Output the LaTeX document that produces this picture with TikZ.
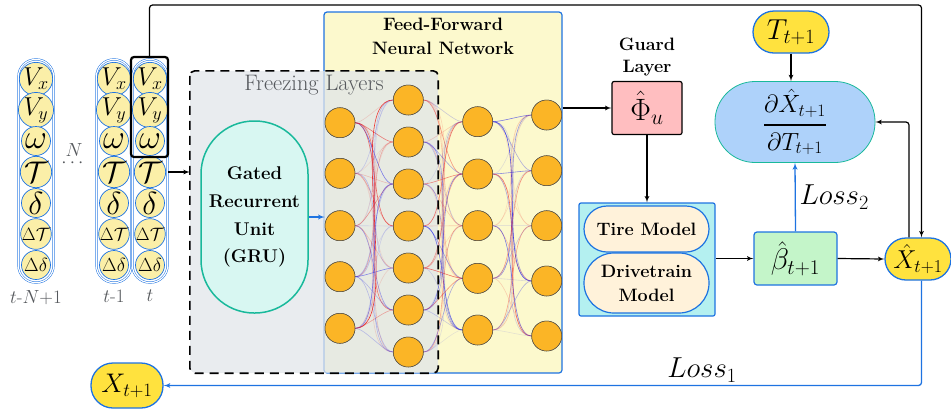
\RequirePackage{fix-cm}
\documentclass[tikz,border=0pt]{standalone}
\usepackage{amsmath}
\usepackage{amssymb}
\usepackage{tikz}
\definecolor{colline}{RGB}{30,115,225}
\definecolor{colteal}{RGB}{25,185,155}
\definecolor{colnode}{RGB}{251,181,38}
\definecolor{colcell}{RGB}{251,239,168}
\definecolor{colffnn}{RGB}{252,249,205}
\definecolor{colfreeze}{RGB}{225,229,234}
\definecolor{colgru}{RGB}{216,247,242}
\definecolor{colguard}{RGB}{255,190,192}
\definecolor{colmodel}{RGB}{180,240,240}
\definecolor{colsub}{RGB}{255,242,218}
\definecolor{colbeta}{RGB}{196,245,201}
\definecolor{colderiv}{RGB}{174,210,250}
\definecolor{colstate}{RGB}{255,226,62}
\definecolor{colred}{RGB}{235,30,30}
\definecolor{colblue}{RGB}{30,30,235}
\definecolor{coltext}{RGB}{85,88,92}
\usetikzlibrary{
	arrows,
	positioning
}
\pgfdeclarelayer{back}
\pgfdeclarelayer{mid}
\pgfsetlayers{back,mid,main}
\tikzset{
	>=latex',
	flow/.style={->, line width=1.2bp},
	lossflow/.style={->, line width=1.3bp, color=colline},
	neuron/.style={circle, draw=black!70, fill=colnode, minimum size=30bp, inner sep=0pt, line width=0.5bp},
	cell/.style={circle, draw=colline, fill=colcell, minimum size=29bp, inner sep=0pt, line width=0.7bp},
	column/.style={draw=colline, double=white, double distance=1.2bp, line width=0.5bp, rounded corners=17bp, minimum width=35bp, minimum height=223bp, inner sep=0pt},
	boldlabel/.style={font=\fontsize{18}{24}\selectfont\bfseries, align=center},
	submodel/.style={draw=colline, fill=colsub, line width=1.2bp, minimum width=125bp, boldlabel},
	statenode/.style={draw=colline, fill=colstate, line width=1.3bp, inner sep=0pt},
	steplabel/.style={text=coltext, font=\fontsize{19}{19}\selectfont}
}

\begin{document}
\begin{tikzpicture}[x=1bp, y=-1bp]
	\useasboundingbox (0,0) rectangle (951,416);

	% input sequence
	\node[column] (cola) at (36,171) {};
	\node[column] (colb) at (114,171) {};
	\node[column] (colc) at (150,171) {};
	\foreach \cn/\x in {a/36, b/114, c/150}
		\foreach \lab/\sz [count=\k] in {V_x/26, V_y/26, \omega/34, \mathcal{T}/30, \delta/32, \Delta\mathcal{T}/18, \Delta\delta/19}
			\node[cell, font=\fontsize{\sz}{\sz}\selectfont] (\cn\k) at (\x, 48+31*\k) {$\lab$};
	\node[steplabel, below=4bp of cola] (laba) {$t$-$N$+1};
	\node[steplabel, below=4bp of colb] (labb) {$t$-1};
	\node[steplabel, below=4bp of colc] (labc) {$t$};
	\node[steplabel] (nlab) at (74,150) {$N$};
	\node[steplabel] (ndots) at (74,163) {$\cdots$};

	% sliding window
	\node[draw, line width=2.2bp, rounded corners=3bp, minimum width=37bp, minimum height=100bp] (window) at (149.5,107) {};

	% network boxes
	\begin{pgfonlayer}{back}
		\node[draw=colline, fill=colffnn, line width=1.2bp, rounded corners=3bp, minimum width=238bp, minimum height=361bp] (ffnn) at (443,192.5) {};
		\node[fill=colfreeze, fill opacity=0.75, rounded corners=6bp, minimum width=248bp, minimum height=302bp] (freeze) at (314,222) {};
	\end{pgfonlayer}
	\node[boldlabel, below=3bp of ffnn.north] (fftitle) {Feed-Forward\\Neural Network};

	% layers
	\foreach \y [count=\k] in {122.7,173.3,225.7,276.7,328.3}
		\node[neuron] (L1-\k) at (340,\y) {};
	\foreach \y [count=\k] in {100,142,184,226,268,310,352}
		\node[neuron] (L2-\k) at (408.3,\y) {};
	\foreach \y [count=\k] in {121.7,174,225.7,278.3,330}
		\node[neuron] (L3-\k) at (477.7,\y) {};
	\foreach \y [count=\k] in {115,170.7,225.7,281,336}
		\node[neuron] (L4-\k) at (546.7,\y) {};

	\begin{pgfonlayer}{mid}
		\pgfmathsetseed{42}
		\foreach \a/\na/\b/\nb in {1/5/2/7, 2/7/3/5, 3/5/4/5}
			\foreach \i in {1,...,\na}
				\foreach \j in {1,...,\nb} {
					\pgfmathsetmacro\op{0.1+0.8*rnd*rnd}
					\pgfmathtruncatemacro\tone{2*rnd}
					\ifnum\tone=0 \def\tint{colred}\else\def\tint{colblue}\fi
					\draw[color=\tint, opacity=\op, line width=0.6bp] (L\a-\i) to[out=0, in=180, looseness=0.55] (L\b-\j);
				}
	\end{pgfonlayer}

	\draw[line width=1.6bp, dash pattern=on 9bp off 6bp, rounded corners=5bp] (freeze.north west) rectangle (freeze.south east);
	\node[text=coltext, font=\fontsize{22.5}{22.5}\selectfont, below=1bp of freeze.north] (freezelabel) {Freezing Layers};

	% redraw neurons above the dashed frame
	\foreach \k in {1,...,5} {
		\node[neuron] at (L1-\k) {};
		\node[neuron] at (L3-\k) {};
		\node[neuron] at (L4-\k) {};
	}
	\foreach \k in {1,...,7}
		\node[neuron] at (L2-\k) {};

	% recurrent unit
	\node[draw=colteal, fill=colgru, line width=1.5bp, rounded corners=53bp, minimum width=107bp, minimum height=192bp, boldlabel, font=\fontsize{18.5}{28}\selectfont\bfseries] (gru) at (254.5,217) {Gated\\Recurrent\\Unit\\(GRU)};

	% guard and physics models
	\node[draw, fill=colguard, line width=1.2bp, rounded corners=2bp, minimum width=70bp, minimum height=53bp, font=\fontsize{31}{31}\selectfont] (guard) at (647,108) {$\hat{\Phi}_u$};
	\node[boldlabel, font=\fontsize{18}{22}\selectfont\bfseries, above=1bp of guard] (guardtitle) {Guard\\Layer};
	\node[draw=colline, fill=colmodel, line width=1.2bp, rounded corners=2bp, minimum width=136bp, minimum height=113bp] (model) at (647,259.5) {};
	\node[submodel, rounded corners=23bp, minimum height=46bp] (tire) at (646.5,229) {Tire Model};
	\node[submodel, rounded corners=30bp, minimum height=60bp] (drive) at (646.5,283) {Drivetrain\\Model};
	\node[draw=colline, fill=colbeta, line width=1.2bp, rounded corners=3bp, minimum width=83bp, minimum height=53bp, font=\fontsize{30}{30}\selectfont] (beta) at (795.5,258.5) {$\hat{\beta}_{t+1}$};
	\node[draw=colteal, fill=colderiv, line width=0.8bp, rounded corners=40bp, minimum width=160bp, minimum height=81bp, font=\fontsize{25}{25}\selectfont] (deriv) at (795,122) {$\genfrac{}{}{2.2bp}{0}{\partial\hat{X}_{t+1}}{\partial T_{t+1}}$};

	% states
	\node[statenode, rounded corners=21bp, minimum width=76bp, minimum height=42bp, font=\fontsize{29}{29}\selectfont] (tnext) at (791,32) {$T_{t+1}$};
	\node[statenode, rounded corners=21bp, minimum width=66bp, minimum height=42bp, font=\fontsize{26}{26}\selectfont] (xhat) at (918,259) {$\hat{X}_{t+1}$};
	\node[statenode, rounded corners=22bp, minimum width=72bp, minimum height=45bp, font=\fontsize{27}{27}\selectfont] (xnext) at (127,385.5) {$X_{t+1}$};

	\node[font=\fontsize{29}{29}\selectfont, anchor=west] (losstwo) at (796,197) {$Loss_2$};
	\node[font=\fontsize{29}{29}\selectfont] (lossone) at (702,370) {$Loss_1$};

	% connections
	\draw[flow] (colc.east |- c4) -- (freeze.west |- c4);
	\draw[->, color=colline, line width=1.3bp] (gru.east) -- (gru.east -| L1-3.west);
	\draw[flow] (ffnn.east |- guard.west) -- (guard.west);
	\draw[flow] (guard.south) -- (model.north);
	\draw[flow] (model.east |- beta.west) -- (beta.west);
	\draw[flow] (beta.east) -- (xhat.west);
	\draw[flow] (tnext.south) -- (tnext.south |- deriv.north);
	\draw[flow, rounded corners=3bp] ([xshift=-9bp]xhat.north) |- (deriv.east);
	\coordinate (topright) at (921.5,5);
	\draw[flow, rounded corners=3bp] (window.north) |- (topright) -- (topright |- xhat.north);
	\draw[lossflow] (beta.north) -- (deriv.south);
	\draw[lossflow, rounded corners=3bp] ([xshift=3.5bp]xhat.south) |- (xnext.east);
\end{tikzpicture}
\end{document}
